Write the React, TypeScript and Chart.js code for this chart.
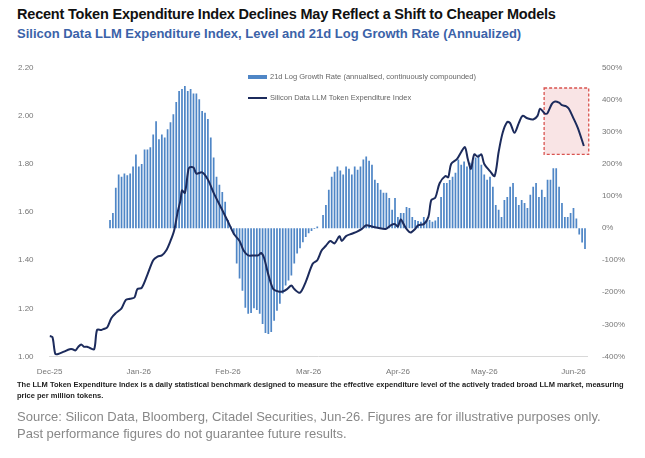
import React, { useEffect, useRef } from 'react';
import { Chart, registerables } from 'chart.js';

Chart.register(...registerables);

// x axis is calendar days counted from 1 Dec 2025
const monthLabels = ['Dec-25', 'Jan-26', 'Feb-26', 'Mar-26', 'Apr-26', 'May-26', 'Jun-26'];
const monthStartDays = [0, 31, 62, 90, 121, 151, 182];

// Silicon Data LLM Token Expenditure Index, read at [day, level]
const indexPoints: [number, number][] = [
  [0, 1.085], [1, 1.08], [2, 1.01], [3, 1.01], [5, 1.02], [7, 1.03], [8, 1.03], [9, 1.025],
  [10, 1.04], [11, 1.05], [12, 1.04], [13, 1.04], [14, 1.035], [15.5, 1.03], [16.5, 1.11],
  [18, 1.11], [19, 1.115], [20, 1.12], [21.5, 1.16], [23, 1.18], [25, 1.2], [26.5, 1.235],
  [28, 1.24], [29.5, 1.245], [30.5, 1.28], [32, 1.285], [34, 1.34], [36, 1.4], [37.5, 1.415],
  [39, 1.42], [40.5, 1.44], [42, 1.48], [43.3, 1.525], [44.5, 1.6], [45.5, 1.65], [46, 1.69],
  [47, 1.68], [48, 1.76], [48.5, 1.785], [50, 1.785], [51, 1.76], [53, 1.765], [55, 1.735],
  [57, 1.68], [59.5, 1.62], [62, 1.56], [64, 1.51], [66, 1.48], [67.4, 1.44], [69, 1.42],
  [71, 1.42], [72.5, 1.42], [73.5, 1.43], [74.5, 1.41], [76, 1.34], [77.7, 1.28], [79.5, 1.27],
  [81, 1.27], [82.5, 1.28], [84, 1.295], [85, 1.28], [87, 1.265], [89, 1.31], [91.4, 1.385],
  [93, 1.4], [94.5, 1.44], [96, 1.46], [97.5, 1.48], [99, 1.47], [100.7, 1.5], [101.5, 1.48],
  [103, 1.5], [105, 1.51], [107, 1.52], [108.5, 1.53], [110, 1.545], [112, 1.54], [114, 1.535],
  [116.8, 1.53], [118.5, 1.545], [120, 1.55], [121, 1.54], [122, 1.57], [123, 1.55],
  [124, 1.53], [125.4, 1.515], [127, 1.53], [128, 1.545], [130, 1.55], [131.6, 1.58],
  [132.6, 1.65], [134, 1.66], [135.5, 1.72], [137.5, 1.75], [138.5, 1.745], [139.5, 1.8],
  [141.5, 1.82], [143, 1.85], [144.3, 1.87], [145.3, 1.82], [146.4, 1.78], [147.5, 1.84],
  [148.8, 1.83], [150, 1.84], [151, 1.8], [153, 1.77], [154.6, 1.75], [156, 1.85],
  [157.4, 1.93], [159, 1.975], [160, 1.97], [161.5, 1.93], [163, 1.97], [164.3, 2.0],
  [166, 1.99], [168, 1.985], [169.5, 2.0], [170.4, 2.03], [172, 2.01], [172.9, 2.01],
  [174.5, 2.05], [175.6, 2.06], [177, 2.055], [178, 2.045], [179.5, 2.04], [180.4, 2.03],
  [182, 1.99], [183.5, 1.95], [185.6, 1.875],
];

// 21d log growth rate (annualised), %, one bar per day from barStartDay
const barStartDay = 21;
const growthRate = [
  25, 47, 126, 167, 160, 170, 165, 170, 192, 230, 192, 200, 245, 245, 252, 292, 333, 277, 292, 283,
  308, 330, 355, 393, 428, 434, 443, 428, 434, 420, 420, 402, 365, 360, 340, 283, 220, 160, 135, 113,
  82, 25, 5,
  -20, -110, -157, -195, -248, -267, -265, -250, -255, -267, -299, -327, -330, -324, -289, -258,
  -236, -204, -179, -163, -148, -110, -79, -63, -44, -28, -16, -9, -3, 5,
  0, 41, 72, 120, 160, 176, 192, 180, 167, 192, 185, 167, 192, 182, 192, 214, 223, 210, 198, 151,
  141, 120, 110, 110, 94, 57, 94, 35, 47, 47, 66, 63, 35, 25, 22, 20, 35, 22, 25, 20,
  24, 35, 97, 141, 141, 150, 160, 173, 214, 198, 208, 192, 204, 208, 220, 230, 198, 167, 151, 160,
  129, 72, 57, 35, 88, 97, 129, 141, 97, 72, 88, 78, 63, 104, 129, 141, 97, 120, 97, 151,
  151, 187, 187, 129, 78, 35, 35, 47, 63, 30, -20, -45, -65,
];

// highlighted recent window: days and growth-axis range
const boxDays = [171.8, 187.3];
const boxRate = [230, 437];

const tickColor = '#777';

const highlightBox = {
  id: 'highlightBox',
  beforeDatasetsDraw(chart: any) {
    const { ctx, scales } = chart;
    const x1 = scales.x.getPixelForValue(boxDays[0]);
    const x2 = scales.x.getPixelForValue(boxDays[1]);
    const y1 = scales.y1.getPixelForValue(boxRate[1]);
    const y2 = scales.y1.getPixelForValue(boxRate[0]);
    ctx.save();
    ctx.fillStyle = 'rgba(244, 205, 208, 0.55)';
    ctx.fillRect(x1, y1, x2 - x1, y2 - y1);
    ctx.setLineDash([3, 2]);
    ctx.strokeStyle = '#d9534f';
    ctx.lineWidth = 1.3;
    ctx.strokeRect(x1, y1, x2 - x1, y2 - y1);
    ctx.restore();
  },
};

function ExpenditureChart() {
  const canvasRef = useRef<HTMLCanvasElement>(null);

  useEffect(() => {
    if (!canvasRef.current) return;
    const chart = new Chart(canvasRef.current, {
      type: 'bar',
      data: {
        datasets: [
          {
            type: 'line',
            label: 'Silicon Data LLM Token Expenditure Index',
            data: indexPoints.map(([x, y]) => ({ x, y })),
            borderColor: '#1c2b5c',
            borderWidth: 2,
            pointRadius: 0,
            tension: 0.3,
            yAxisID: 'y',
            order: 0,
          } as any,
          {
            type: 'bar',
            label: '21d Log Growth Rate (annualised, continuously compounded)',
            data: growthRate.map((v, i) => ({ x: barStartDay + i, y: v })),
            backgroundColor: '#4f86c6',
            barPercentage: 0.6,
            categoryPercentage: 1,
            yAxisID: 'y1',
            order: 1,
          },
        ],
      },
      options: {
        animation: false,
        responsive: false,
        layout: { padding: { left: 10, right: 14, top: 10, bottom: 0 } },
        plugins: { legend: { display: false }, tooltip: { enabled: false } },
        scales: {
          x: {
            type: 'linear',
            min: 0,
            max: 187,
            offset: false,
            afterBuildTicks: (axis: any) => {
              axis.ticks = monthStartDays.map((v) => ({ value: v }));
            },
            ticks: {
              autoSkip: false,
              maxRotation: 0,
              color: tickColor,
              font: { family: 'Liberation Sans', size: 8 },
              callback: (v: any) => monthLabels[monthStartDays.indexOf(Number(v))] ?? '',
            },
            grid: { display: false, drawTicks: true },
            border: { color: '#d8d8d8' },
          },
          y: {
            position: 'left',
            min: 1.0,
            max: 2.2,
            afterBuildTicks: (axis: any) => {
              axis.ticks = [1.0, 1.2, 1.4, 1.6, 1.8, 2.0, 2.2].map((v) => ({ value: v }));
            },
            ticks: {
              color: tickColor,
              padding: 8,
              font: { family: 'Liberation Sans', size: 8 },
              callback: (v: any) => Number(v).toFixed(2),
            },
            grid: { display: false },
            border: { display: false },
          },
          y1: {
            position: 'right',
            min: -400,
            max: 500,
            ticks: {
              stepSize: 100,
              color: tickColor,
              padding: 6,
              font: { family: 'Liberation Sans', size: 8 },
              callback: (v: any) => `${v}%`,
            },
            grid: { display: false },
            border: { display: false },
          },
        },
      },
      plugins: [highlightBox],
    });
    return () => chart.destroy();
  }, []);

  return <canvas ref={canvasRef} width={645} height={325} />;
}

export default function App() {
  useEffect(() => {
    document.body.style.margin = '0';
  }, []);

  const font = '"Liberation Sans", Arial, sans-serif';
  return (
    <div style={{ position: 'relative', width: 645, height: 458, background: '#fff', fontFamily: font }}>
      <div style={{ position: 'absolute', left: 17, top: 6, fontSize: 14.5, fontWeight: 'bold', color: '#111', letterSpacing: -0.2 }}>
        Recent Token Expenditure Index Declines May Reflect a Shift to Cheaper Models
      </div>
      <div style={{ position: 'absolute', left: 17, top: 26, fontSize: 13, fontWeight: 'bold', color: '#3b62a8' }}>
        Silicon Data LLM Expenditure Index, Level and 21d Log Growth Rate (Annualized)
      </div>
      <div style={{ position: 'absolute', left: 0, top: 55 }}>
        <ExpenditureChart />
      </div>
      <div style={{ position: 'absolute', left: 248, top: 71, fontSize: 7.5, color: '#666', lineHeight: '12px' }}>
        <div style={{ display: 'flex', alignItems: 'center' }}>
          <span style={{ display: 'inline-block', width: 19, height: 4, background: '#4f86c6', marginRight: 3 }} />
          21d Log Growth Rate (annualised, continuously compounded)
        </div>
        <div style={{ display: 'flex', alignItems: 'center', marginTop: 9 }}>
          <span style={{ display: 'inline-block', width: 19, height: 2, background: '#1c2b5c', marginRight: 3 }} />
          Silicon Data LLM Token Expenditure Index
        </div>
      </div>
      <div style={{ position: 'absolute', left: 17, top: 379, width: 620, fontSize: 7.5, fontWeight: 'bold', color: '#222', lineHeight: '11px' }}>
        The LLM Token Expenditure Index is a daily statistical benchmark designed to measure the effective expenditure level of the actively traded broad LLM market, measuring price per million tokens.
      </div>
      <div style={{ position: 'absolute', left: 17, top: 408, width: 612, fontSize: 13, color: '#888', lineHeight: '17px' }}>
        Source: Silicon Data, Bloomberg, Citadel Securities, Jun-26. Figures are for illustrative purposes only. Past performance figures do not guarantee future results.
      </div>
    </div>
  );
}
